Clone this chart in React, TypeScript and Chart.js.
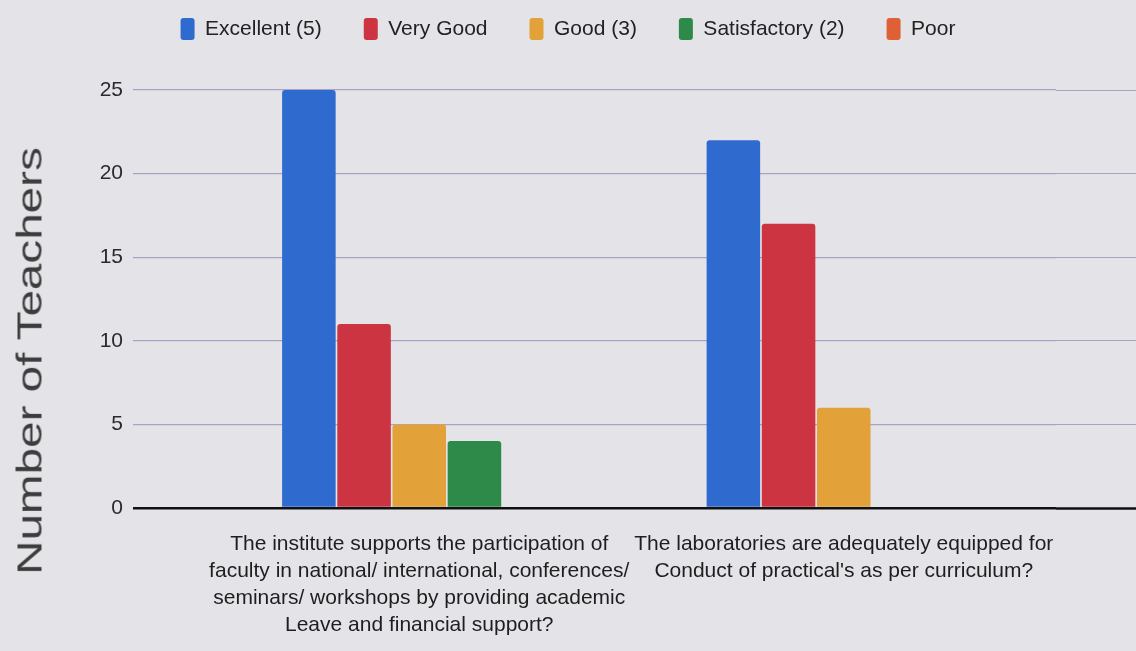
import React, { useEffect, useRef } from "react";
import { Chart, registerables } from "chart.js";

Chart.register(...registerables);

const categories: string[][] = [
  [
    "The institute supports the participation of",
    "faculty in national/ international, conferences/",
    "seminars/ workshops by providing academic",
    "Leave and financial support?",
  ],
  [
    "The laboratories are adequately equipped for",
    "Conduct of practical's as per curriculum?",
  ],
];

const seriesNames = ["Excellent (5)", "Very Good", "Good (3)", "Satisfactory (2)", "Poor"];
const excellent = [25, 22];
const veryGood = [11, 17];
const good = [5, 6];
const satisfactory = [4, 0];
const poor = [0, 0];
const seriesColors = ["#2f6bcf", "#cc3441", "#e2a239", "#2d8a48", "#df6037"];
const yTicks = [0, 5, 10, 15, 20, 25];
const yTitle = "Number of Teachers";

const BG = "#e4e3e8";
const GRID = "#a9a3c2";
const FONT = '"Liberation Sans", Arial, sans-serif';
const LEGEND_PAD = 42;

const legendSpacer = {
  id: "legendSpacer",
  beforeInit(chart: any) {
    const legend = chart.legend;
    if (!legend) return;
    const orig = legend.fit;
    legend.fit = function () {
      orig.call(this);
      this.height += 40;
    };
  },
};

export default function App() {
  const ref = useRef<HTMLCanvasElement | null>(null);

  useEffect(() => {
    if (!ref.current) return;
    const values = [excellent, veryGood, good, satisfactory, poor];
    const chart = new Chart(ref.current, {
      type: "bar",
      data: {
        labels: categories,
        datasets: seriesNames.map((name, i) => ({
          label: name,
          data: values[i],
          backgroundColor: seriesColors[i],
          borderRadius: 3,
          borderSkipped: "bottom",
          categoryPercentage: 0.65,
          barPercentage: 0.97,
          yAxisID: "y",
        })),
      },
      plugins: [legendSpacer],
      options: {
        animation: false,
        responsive: true,
        maintainAspectRatio: false,
        layout: { padding: { top: 18 - LEGEND_PAD, left: 0, right: 0, bottom: 0 } },
        plugins: {
          tooltip: { enabled: false },
          legend: {
            position: "top",
            labels: {
              boxWidth: 14,
              boxHeight: 22,
              useBorderRadius: true,
              borderRadius: 3,
              padding: LEGEND_PAD,
              color: "#222",
              font: { family: FONT, size: 21 },
            },
          },
        },
        scales: {
          x: {
            grid: { display: false },
            border: { display: false },
            ticks: {
              color: "#1e1e1e",
              font: { family: FONT, size: 21, lineHeight: 1.28 },
              padding: 15,
              maxRotation: 0,
              autoSkip: false,
            },
            afterFit: (s: any) => {
              s.height = 143;
            },
          },
          y: {
            position: "left",
            min: 0,
            max: 25,
            afterBuildTicks: (s: any) => {
              s.ticks = yTicks.map((v) => ({ value: v }));
            },
            ticks: {
              color: "#2a2a2a",
              font: { family: FONT, size: 21 },
              padding: 10,
            },
            grid: {
              color: (c: any) => (c.tick && c.tick.value === 0 ? "#111" : GRID),
              tickColor: (c: any) => (c.tick && c.tick.value === 0 ? "#111" : GRID),
              lineWidth: (c: any) => (c.tick && c.tick.value === 0 ? 2.5 : 1.2),
              tickWidth: (c: any) => (c.tick && c.tick.value === 0 ? 2.5 : 1.2),
              drawTicks: true,
              tickLength: 74,
            },
            border: { display: false },
            afterFit: (s: any) => {
              s.width = 207;
            },
          },
          yR: {
            position: "right",
            min: 0,
            max: 25,
            afterBuildTicks: (s: any) => {
              s.ticks = yTicks.map((v) => ({ value: v }));
            },
            ticks: { display: false },
            grid: {
              drawOnChartArea: false,
              drawTicks: true,
              tickLength: 80,
              tickColor: (c: any) => (c.tick && c.tick.value === 0 ? "#111" : GRID),
              tickWidth: (c: any) => (c.tick && c.tick.value === 0 ? 2.5 : 1.2),
            },
            border: { display: false },
            afterFit: (s: any) => {
              s.width = 80;
            },
          },
        },
      } as any,
    });
    return () => chart.destroy();
  }, []);

  return (
    <div
      style={{
        position: "fixed",
        left: 0,
        top: 0,
        width: 1136,
        height: 651,
        background: BG,
        overflow: "hidden",
      }}
    >
      <div
        style={{
          position: "absolute",
          left: 0,
          top: 0,
          width: 1136,
          height: 651,
        }}
      >
        <canvas ref={ref} />
      </div>
      <div
        style={{
          position: "absolute",
          left: 29,
          top: 361,
          transform: "translate(-50%, -50%) rotate(-90deg) scaleX(1.36)",
          whiteSpace: "nowrap",
          fontFamily: FONT,
          fontSize: 35,
          color: "#3c3c3c",
          lineHeight: 1,
        }}
      >
        {yTitle}
      </div>
    </div>
  );
}
